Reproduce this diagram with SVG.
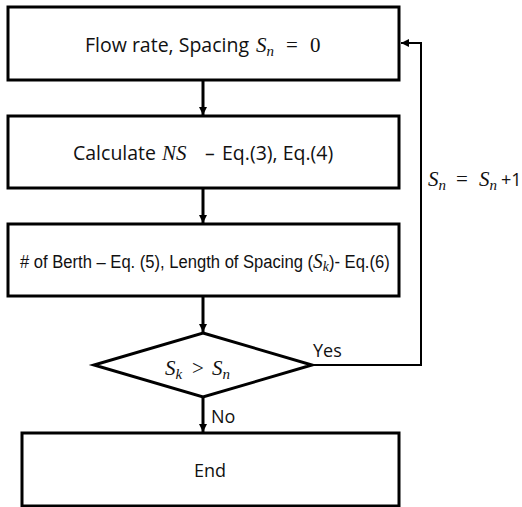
<svg xmlns="http://www.w3.org/2000/svg" width="522" height="507" viewBox="0 0 522 507">
  <defs>
    <marker id="arrow" viewBox="0 0 10 10" refX="10" refY="5" markerWidth="8" markerHeight="8" markerUnits="userSpaceOnUse" orient="auto">
      <path d="M0,0 L10,5 L0,10 z" fill="#000"/>
    </marker>
    <style>
      .box { fill: #fff; stroke: #000; stroke-width: 3; }
      .lbl { font-family: "Open Sans", "Liberation Sans", sans-serif; font-size: 18px; fill: #111; }
      .big { font-size: 19.5px; }
      .narrow { font-family: "Liberation Sans", "Arial", sans-serif; font-size: 18px; }
      .math { font-family: "Liberation Serif", "DejaVu Serif", serif; font-style: italic; font-size: 21px; }
      .sub { font-family: "Liberation Serif", "DejaVu Serif", serif; font-style: italic; font-size: 15px; }
      .up { font-family: "Liberation Serif", "DejaVu Serif", serif; font-style: normal; font-size: 21px; }
      .flow { fill: none; stroke: #000; stroke-width: 3; }
      .loop { fill: none; stroke: #000; stroke-width: 2; }
    </style>
  </defs>
  <rect width="522" height="507" fill="#fff"/>

  <!-- process boxes -->
  <g id="start">
    <rect class="box" x="8" y="7" width="391" height="73"/>
    <text class="lbl big" x="85" y="52">Flow rate, Spacing<tspan class="math" x="256">S</tspan><tspan class="sub" dy="4">n</tspan><tspan class="up" x="286" dy="-4">=</tspan><tspan class="up" x="310">0</tspan></text>
  </g>
  <g id="calc-ns">
    <rect class="box" x="8" y="116" width="391" height="72"/>
    <text class="lbl big" x="73" y="160">Calculate<tspan class="math" x="162">NS</tspan><tspan x="205">–</tspan><tspan x="222">Eq.(3), Eq.(4)</tspan></text>
  </g>
  <g id="berth">
    <rect class="box" x="8" y="224" width="391" height="72"/>
    <!-- condensed line: scaled horizontally to fit the box -->
    <text class="lbl narrow" transform="translate(20,268) scale(0.922,1)"># of Berth – Eq. (5), Length of Spacing (<tspan class="math" font-size="17">S</tspan><tspan class="sub" font-size="12" dy="3">k</tspan><tspan dy="-3">)- Eq.(6)</tspan></text>
  </g>
  <g id="decision">
    <polygon class="box" points="203,333 312,365 203,397 94,365"/>
    <text class="lbl" x="165" y="375"><tspan class="math">S</tspan><tspan class="sub" dy="4">k</tspan><tspan class="up" x="192" dy="-4">&gt;</tspan><tspan class="math" x="212">S</tspan><tspan class="sub" dy="4">n</tspan></text>
  </g>
  <g id="end">
    <rect class="box" x="22" y="433" width="377" height="73"/>
    <text class="lbl" x="210" y="477" text-anchor="middle">End</text>
  </g>

  <!-- connectors -->
  <g id="connectors">
    <line class="flow" x1="203" y1="81" x2="203" y2="115" marker-end="url(#arrow)"/>
    <line class="flow" x1="203" y1="189" x2="203" y2="223" marker-end="url(#arrow)"/>
    <line class="flow" x1="203" y1="297" x2="203" y2="332" marker-end="url(#arrow)"/>
    <line class="flow" x1="203" y1="398" x2="203" y2="432" marker-end="url(#arrow)"/>
    <polyline class="loop" points="312,365 421,365 421,43 401,43" marker-end="url(#arrow)"/>
    <text class="lbl" x="313" y="357">Yes</text>
    <text class="lbl" x="211" y="423">No</text>
    <text class="lbl" x="428" y="186"><tspan class="math" font-size="22">S</tspan><tspan class="sub" dy="4">n</tspan><tspan class="up" x="456" dy="-4">=</tspan><tspan class="math" x="479" font-size="22">S</tspan><tspan class="sub" dy="4">n</tspan><tspan x="501" dy="-4">+1</tspan></text>
  </g>
</svg>
